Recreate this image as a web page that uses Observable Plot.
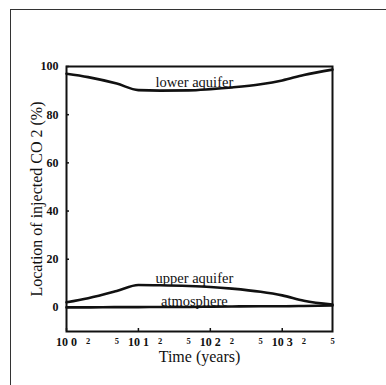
<!DOCTYPE html>
<html><head><meta charset="utf-8">
<script src="https://cdn.jsdelivr.net/npm/d3@7"></script>
<script src="https://cdn.jsdelivr.net/npm/@observablehq/plot@0.6"></script>
<style>
html,body{margin:0;padding:0;background:#fff;}
#wrap{position:relative;width:386px;height:385px;overflow:hidden;}
#border{position:absolute;left:10px;top:9px;width:380px;height:390px;border-left:1.5px solid #333;border-top:1.5px solid #333;}
#wrap svg{position:absolute;left:0;top:0;}
</style></head><body><div id="wrap"><div id="border"></div></div>
<script>
// Data (time in years, share of injected CO2 in %)
const years        = [1,   2,    5,    10,   20,   50,   100,  200,  500,  1000, 2000, 5000];
const lowerAquifer = [97,  95.6, 92.9, 90.2, 90.0, 90.1, 90.6, 91.3, 92.6, 94.2, 96.5, 98.7];
const upperAquifer = [2.1, 3.8,  6.8,  9.3,  9.2,  8.9,  8.5,  7.8,  6.5,  5.0,  2.8,  1.2];
const atmosphere   = [0.0, 0.0,  0.1,  0.1,  0.2,  0.2,  0.3,  0.4,  0.5,  0.5,  0.6,  0.8];
const seriesNames  = ["lower aquifer", "upper aquifer", "atmosphere"];
const yTicks = [0, 20, 40, 60, 80, 100];
const xMajorTicks = [1, 10, 100, 1000];
const xMajorLabels = ["10 0", "10 1", "10 2", "10 3"];
const xMinorTicks = [2, 5, 20, 50, 200, 500, 2000, 5000];
const xMinorLabels = ["2", "5", "2", "5", "2", "5", "2", "5"];
const labelYear = 60;

const seriesValues = [lowerAquifer, upperAquifer, atmosphere];
const rows = seriesNames.flatMap((name, s) => years.map((t, i) => ({series: name, year: t, value: seriesValues[s][i]})));
const labelRows = seriesNames.map((name, s) => ({series: name, year: labelYear, value: seriesValues[s][years.indexOf(50)]}));
const labelOffsets = [1.4, 1.2, 0.4];
const minorRows = xMinorTicks.map((t, i) => ({year: t, label: xMinorLabels[i]}));

const serif = "'Liberation Serif', 'Times New Roman', serif";
const plot = Plot.plot({
  width: 386, height: 385,
  marginLeft: 66, marginRight: 54, marginTop: 66, marginBottom: 54,
  style: {fontFamily: serif, background: "transparent", color: "#111", overflow: "visible"},
  x: {type: "log", domain: [1, 5000]},
  y: {domain: [-10, 100]},
  marks: [
    Plot.frame({stroke: "#111", strokeWidth: 2}),
    Plot.axisY(yTicks, {tickSize: 3, dx: 3, text: null, label: null, strokeWidth: 1.5}),
    Plot.axisY(yTicks, {tickSize: 0, tickPadding: 8, fontSize: 12, fontWeight: "bold",
      label: "Location of injected CO 2 (%)", labelAnchor: "center", labelArrow: "none", labelOffset: 36}),
    Plot.axisX(xMajorTicks, {tickSize: 3, dy: -3, text: null, label: null, strokeWidth: 1.5}),
    Plot.axisX(xMajorTicks, {tickSize: 0, tickPadding: 6, fontSize: 12, fontWeight: "bold",
      tickFormat: (d) => xMajorLabels[xMajorTicks.indexOf(d)],
      label: "Time (years)", labelAnchor: "center", labelArrow: "none", labelOffset: 30}),
    Plot.text(minorRows, {x: "year", text: "label", frameAnchor: "bottom", dy: 12,
      fontSize: 8.5, fontWeight: "bold", fill: "#111"}),
    Plot.line(rows, {x: "year", y: "value", z: "series", stroke: "#111", strokeWidth: 2.6, curve: "monotone-x"}),
    Plot.text(labelRows, {x: "year", y: (d, i) => d.value + labelOffsets[i], text: "series",
      lineAnchor: "bottom", fontSize: 14.5, fill: "#111"})
  ]
});
plot.querySelectorAll("[aria-label='y-axis label'], [aria-label='x-axis label']").forEach(g => {
  g.setAttribute("font-weight", "normal");
  g.setAttribute("font-size", "16");
  g.querySelectorAll("text").forEach(t => { t.style.fontWeight = "normal"; t.style.fontSize = "16px"; });
});
document.getElementById("wrap").appendChild(plot);
</script>
</body></html>
